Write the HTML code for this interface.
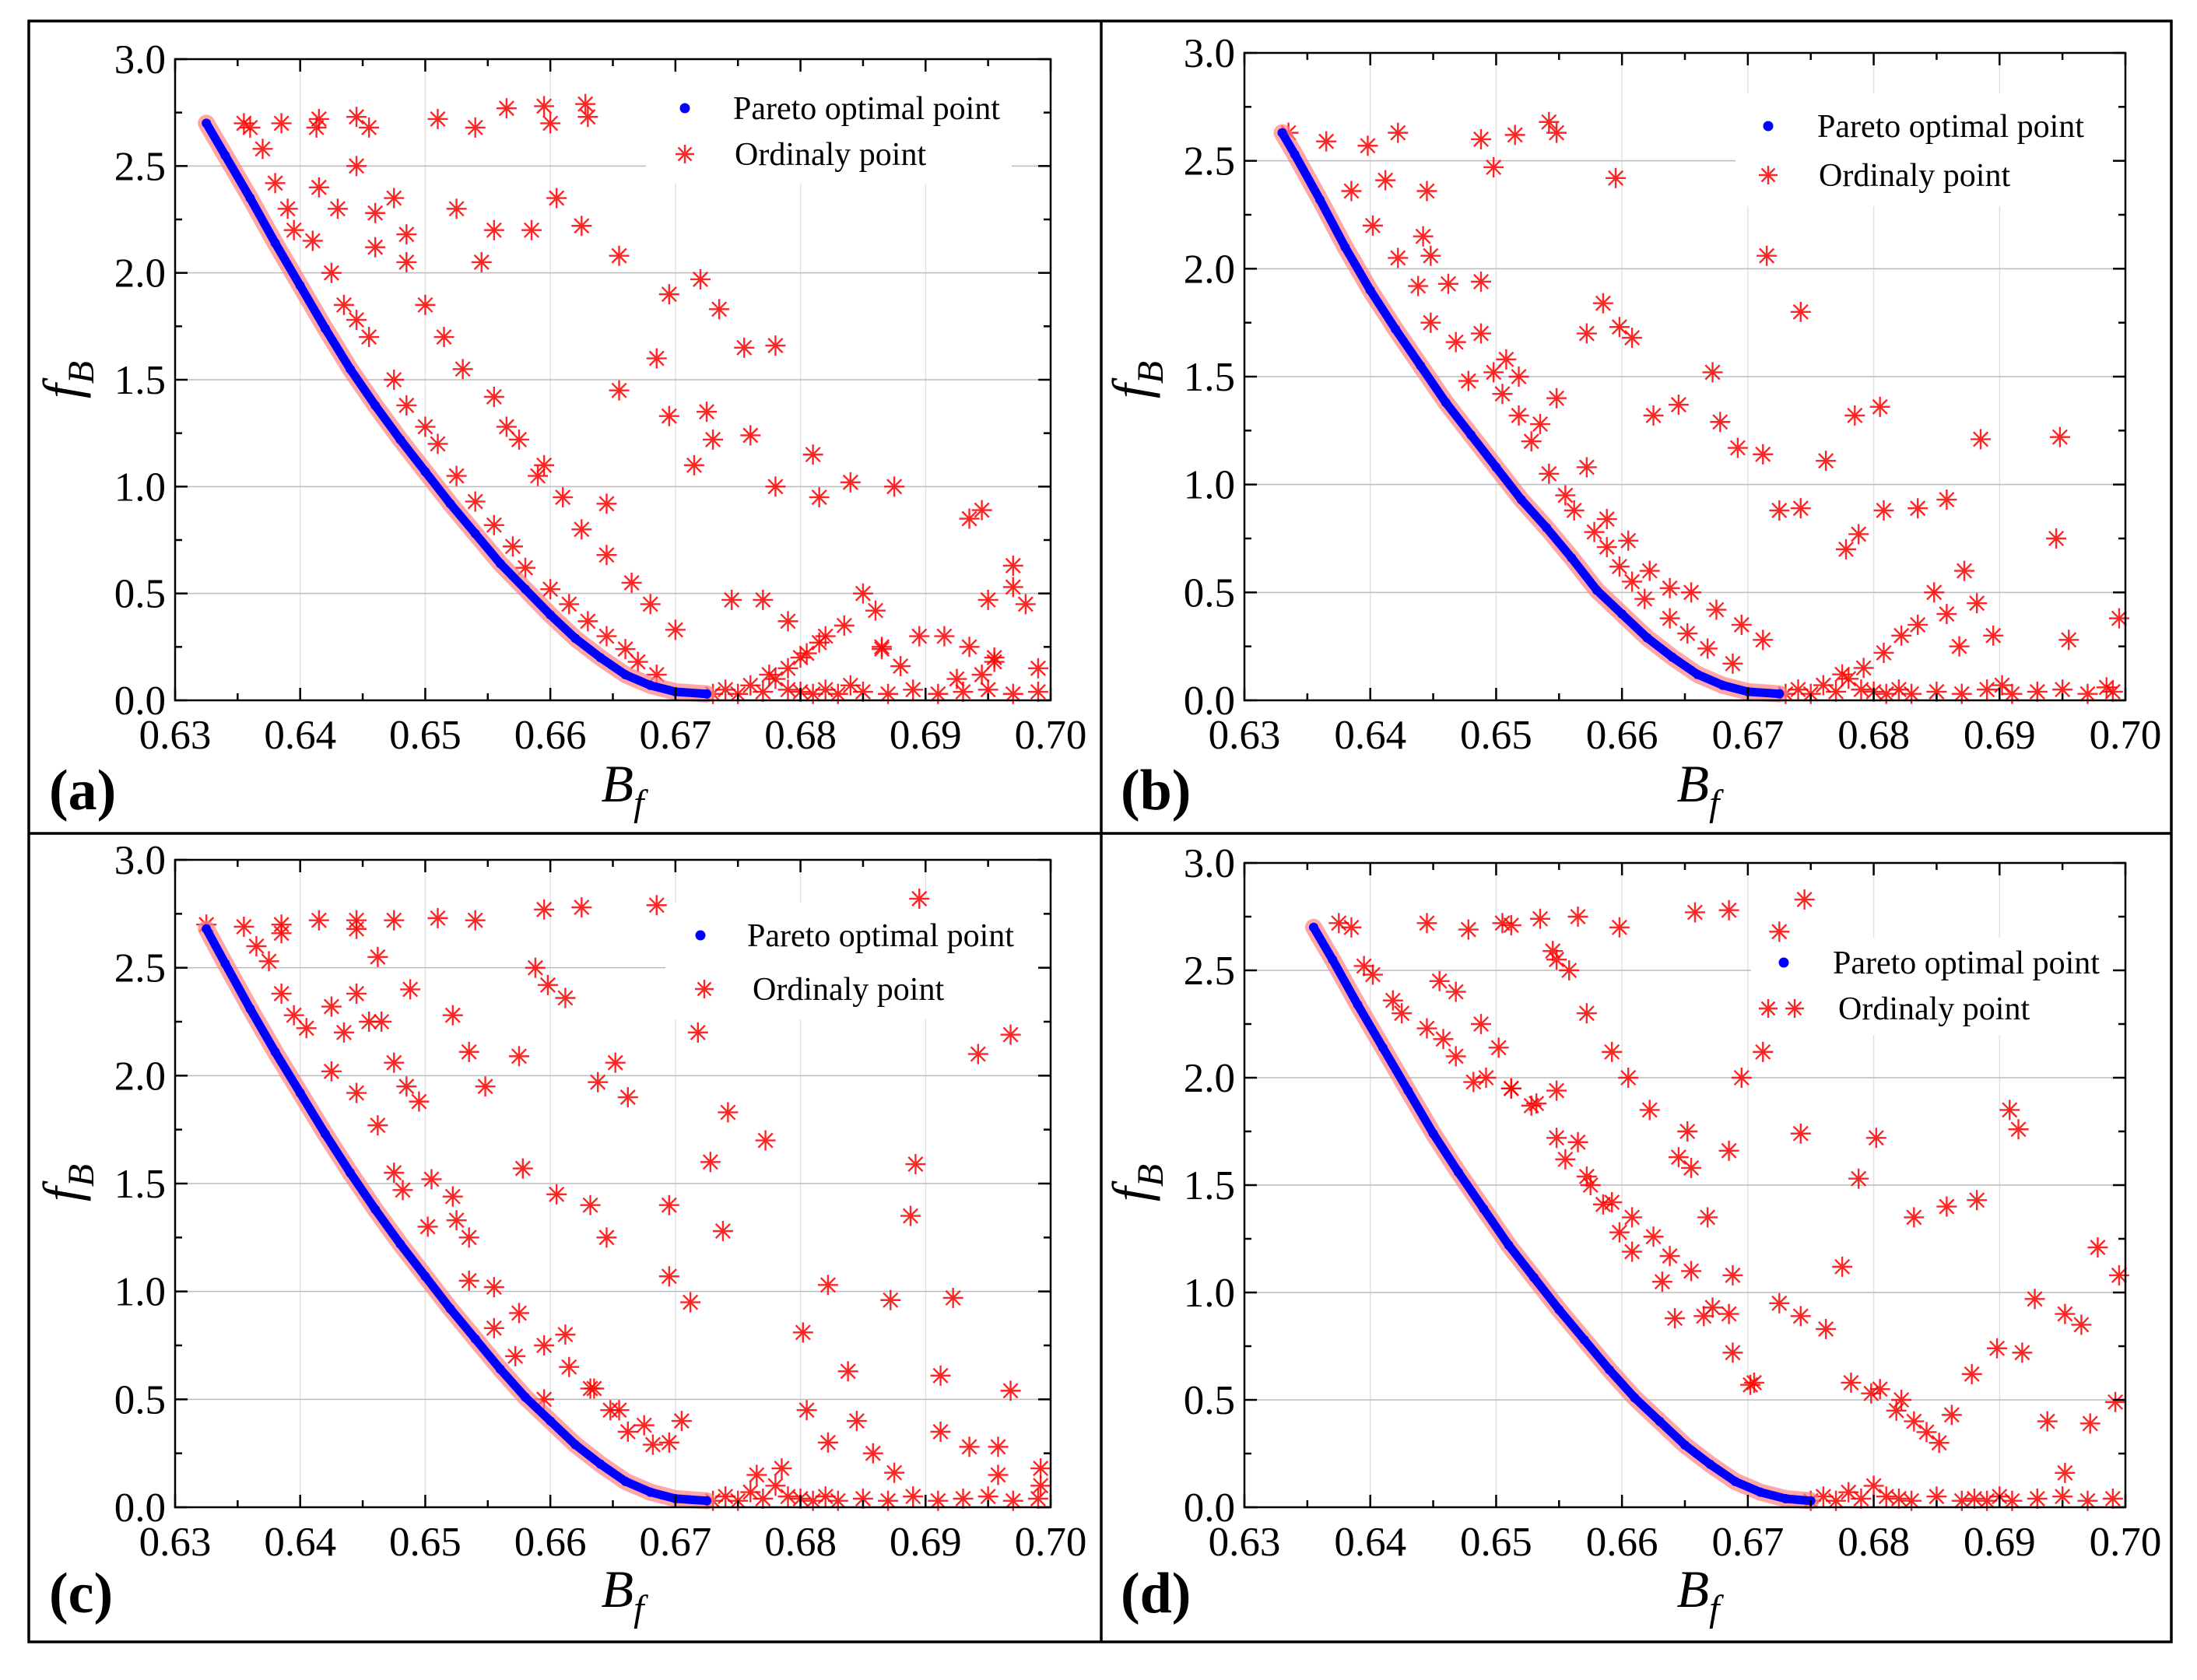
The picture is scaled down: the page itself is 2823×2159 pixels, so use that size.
<!DOCTYPE html>
<html><head><meta charset="utf-8"><style>
html,body{margin:0;padding:0;background:#fff;}
svg, svg text{font-family:"Liberation Serif","Times New Roman",serif;}
</style></head><body>
<svg id="fig" width="2823" height="2154" viewBox="0 0 2823 2154" font-family="Liberation Serif, serif">
<rect x="0" y="0" width="2823" height="2154" fill="#fff"/>
<g stroke="#000" stroke-width="3.5" fill="none">
<rect x="37" y="27" width="2753" height="2083"/>
<line x1="1415" y1="27" x2="1415" y2="2110"/>
<line x1="37" y1="1071" x2="2790" y2="1071"/>
</g>
</svg>
<script>
// ---- data ----
const xTicks = [0.63,0.64,0.65,0.66,0.67,0.68,0.69,0.70];
const xTickLabels = ["0.63","0.64","0.65","0.66","0.67","0.68","0.69","0.70"];
const yTicks = [0,0.5,1,1.5,2,2.5,3];
const yTickLabels = ["0.0","0.5","1.0","1.5","2.0","2.5","3.0"];

const paretoA_x = [0.6325,0.634,0.636,0.638,0.640,0.642,0.644,0.646,0.648,0.650,0.652,0.654,0.656,0.658,0.660,0.662,0.664,0.666,0.668,0.670,0.6725];
const paretoA_y = [2.70,2.55,2.35,2.14,1.94,1.74,1.55,1.38,1.22,1.07,0.92,0.78,0.64,0.52,0.40,0.29,0.20,0.12,0.07,0.04,0.03];
const paretoB_x = [0.633,0.634,0.636,0.638,0.640,0.642,0.644,0.646,0.648,0.650,0.652,0.654,0.656,0.658,0.660,0.662,0.664,0.666,0.668,0.670,0.6725];
const paretoB_y = [2.63,2.53,2.32,2.10,1.90,1.72,1.55,1.38,1.23,1.08,0.93,0.80,0.66,0.51,0.40,0.29,0.20,0.12,0.07,0.04,0.03];
const paretoC_x = [0.6325,0.634,0.636,0.638,0.640,0.642,0.644,0.646,0.648,0.650,0.652,0.654,0.656,0.658,0.660,0.662,0.664,0.666,0.668,0.670,0.6725];
const paretoC_y = [2.68,2.52,2.31,2.11,1.92,1.73,1.55,1.38,1.22,1.07,0.92,0.78,0.64,0.51,0.40,0.29,0.20,0.12,0.07,0.04,0.03];
const paretoD_x = [0.6355,0.637,0.639,0.641,0.643,0.645,0.647,0.649,0.651,0.653,0.655,0.657,0.659,0.661,0.663,0.665,0.667,0.669,0.671,0.673,0.675];
const paretoD_y = [2.70,2.55,2.34,2.14,1.94,1.74,1.56,1.39,1.22,1.07,0.92,0.78,0.64,0.51,0.40,0.29,0.20,0.12,0.07,0.04,0.03];

const ordA_x = [0.6355,0.636,0.6385,0.6415,0.6413,0.6445,0.6455,0.651,0.654,0.6565,0.6595,0.660,0.6628,0.663,
0.637,0.638,0.639,0.6395,0.641,0.6425,0.6435,0.6445,0.6455,0.6475,0.6485,0.650,0.651,0.6525,0.654,0.6555,0.657,0.658,0.660,0.6615,0.663,0.6645,0.666,0.667,0.6685,
0.6415,0.643,0.6445,0.646,0.6485,0.650,0.6515,0.653,0.6555,0.6575,0.659,0.661,0.6625,0.6645,0.6665,0.668,0.670,
0.646,0.6475,0.6485,0.6525,0.6545,0.6555,0.6585,0.6605,0.6625,0.6655,0.6685,0.6695,0.672,0.6735,0.6755,0.678,
0.6565,0.6595,0.6645,0.6655,0.6695,0.6715,0.6725,0.673,0.676,0.678,0.681,0.6815,0.684,0.6875,0.6935,0.6945,0.697,0.695,0.6915,0.686,0.6865,0.6745,0.677,0.679,0.680,
0.673,0.674,0.675,0.676,0.677,0.678,0.679,0.680,0.681,0.682,0.683,0.685,0.687,0.689,0.691,0.693,0.695,0.697,0.699,
0.6775,0.679,0.6805,0.682,0.6835,0.685,0.6865,0.688,0.6955,0.697,0.698,0.699,0.6945,0.6935,0.6925,0.6955,0.6895,0.684,0.6815];
const ordA_y = [2.70,2.68,2.70,2.72,2.68,2.73,2.68,2.72,2.68,2.77,2.78,2.70,2.79,2.73,
2.58,2.42,2.30,2.20,2.15,2.00,1.85,1.78,1.70,1.50,1.38,1.28,1.20,1.05,0.93,0.82,0.72,0.62,0.52,0.45,0.37,0.30,0.24,0.18,0.12,
2.40,2.30,2.50,2.28,2.05,1.85,1.70,1.55,1.42,1.22,1.05,0.95,0.80,0.68,0.55,0.45,0.33,
2.12,2.35,2.18,2.30,2.05,2.20,2.20,2.35,2.22,2.08,1.60,1.90,1.97,1.83,1.65,1.66,
1.28,1.10,0.92,1.45,1.33,1.10,1.35,1.22,1.24,1.00,1.15,0.95,1.02,1.00,0.85,0.89,0.63,0.47,0.30,0.42,0.24,0.47,0.47,0.37,0.20,
0.03,0.05,0.03,0.07,0.04,0.10,0.05,0.04,0.03,0.05,0.03,0.04,0.03,0.05,0.03,0.04,0.05,0.03,0.04,
0.12,0.15,0.22,0.30,0.35,0.50,0.25,0.16,0.18,0.53,0.45,0.15,0.12,0.25,0.10,0.20,0.30,0.07,0.27];

const ordB_x = [0.6335,0.6365,0.6398,0.6412,0.6422,0.6445,0.6488,0.6498,0.6515,0.6542,0.6548,0.6595,
0.6385,0.6402,0.6422,0.6438,0.6448,0.6462,0.6468,0.6488,0.6498,0.6505,0.6518,0.6528,0.6542,0.6555,0.6562,0.6578,0.6588,0.6598,0.6608,0.6618,0.6638,0.6652,0.6668,0.6688,
0.6442,0.6448,0.6478,0.6488,0.6508,0.6518,0.6535,0.6548,0.6572,0.6588,0.6605,0.6622,0.6638,0.6655,0.6675,0.6695,0.6712,
0.6572,0.6585,0.6598,0.6608,0.6625,0.6645,0.6672,0.6678,0.6692,0.6712,0.6715,0.6742,0.6762,0.6785,0.6805,0.6725,0.6742,0.6778,0.6788,0.6808,0.6835,0.6858,0.6872,0.6885,0.6945,0.6948,
0.673,0.674,0.675,0.676,0.677,0.678,0.679,0.680,0.681,0.682,0.683,0.685,0.687,0.689,0.691,0.693,0.695,0.697,0.699,
0.6775,0.6792,0.6808,0.6822,0.6835,0.6848,0.6858,0.6868,0.6882,0.6895,0.6955,0.6985,0.6995,0.6902];
const ordB_y = [2.63,2.59,2.57,2.41,2.63,2.36,2.60,2.47,2.62,2.68,2.63,2.42,
2.36,2.20,2.05,1.92,2.06,1.93,1.66,1.70,1.52,1.42,1.32,1.20,1.05,0.95,0.88,0.78,0.71,0.62,0.55,0.47,0.38,0.31,0.24,0.17,
2.15,1.75,1.48,1.94,1.58,1.50,1.28,1.40,1.08,0.84,0.74,0.60,0.52,0.50,0.42,0.35,0.28,
1.70,1.84,1.73,1.68,1.32,1.37,1.52,1.29,1.17,1.14,2.06,1.80,1.11,1.32,1.36,0.88,0.89,0.70,0.77,0.88,0.89,0.93,0.60,1.21,0.75,1.22,
0.03,0.05,0.03,0.07,0.04,0.10,0.05,0.04,0.03,0.05,0.03,0.04,0.03,0.05,0.03,0.04,0.05,0.03,0.04,
0.12,0.15,0.22,0.30,0.35,0.50,0.40,0.25,0.45,0.30,0.28,0.06,0.38,0.07];

const ordC_x = [0.6325,0.6355,0.6385,0.6385,0.6415,0.6445,0.6445,0.6475,0.651,0.654,0.6595,0.6625,0.6685,0.6895,
0.6365,0.6375,0.6385,0.6395,0.6405,0.6425,0.6435,0.6445,0.6455,0.6465,0.6475,0.6485,0.6495,0.6505,0.6525,0.6535,0.6555,0.6575,0.6595,0.6615,0.6635,0.6655,0.6675,0.6695,
0.6425,0.6445,0.6462,0.6475,0.6482,0.6502,0.6522,0.6535,0.6555,0.6572,0.6595,0.6612,0.6632,0.6648,0.6662,0.6682,0.6705,
0.6462,0.6488,0.6522,0.6535,0.6548,0.6575,0.6588,0.6598,0.6612,0.6638,0.6652,0.6662,0.6695,0.6718,0.6728,0.6742,0.6772,0.6892,0.6968,0.6942,
0.6578,0.6605,0.6632,0.6645,0.6695,0.6712,0.6738,0.6802,0.6822,0.6838,0.6872,0.6888,0.6912,0.6922,0.6958,0.6968,
0.673,0.674,0.675,0.676,0.677,0.678,0.679,0.680,0.681,0.682,0.683,0.685,0.687,0.689,0.691,0.693,0.695,0.697,0.699,
0.6765,0.6785,0.6805,0.6822,0.6845,0.6858,0.6875,0.6912,0.6935,0.6958,0.6992,0.6992];
const ordC_y = [2.70,2.69,2.70,2.66,2.72,2.72,2.68,2.72,2.73,2.72,2.77,2.78,2.79,2.82,
2.60,2.53,2.38,2.28,2.22,2.32,2.20,2.38,2.25,2.25,2.06,1.95,1.88,1.52,1.33,1.25,1.02,0.90,0.75,0.65,0.55,0.45,0.38,0.30,
2.02,1.92,1.77,1.55,1.47,1.30,1.44,1.05,0.83,0.70,0.50,0.80,0.55,0.45,0.35,0.29,0.40,
2.55,2.40,2.28,2.11,1.95,2.09,2.50,2.42,2.36,1.97,2.06,1.90,1.07,2.20,1.60,1.83,1.70,1.59,2.19,2.10,
1.57,1.45,1.40,1.25,1.40,0.95,1.28,0.81,1.03,0.63,0.96,1.35,0.61,0.97,0.28,0.54,
0.03,0.05,0.03,0.07,0.04,0.10,0.05,0.04,0.03,0.05,0.03,0.04,0.03,0.05,0.03,0.04,0.05,0.03,0.04,
0.15,0.18,0.45,0.30,0.40,0.25,0.16,0.35,0.28,0.15,0.10,0.18];

const ordD_x = [0.6375,0.6395,0.6445,0.6478,0.6505,0.6512,0.6535,0.6545,0.6565,0.6598,0.6658,0.6685,0.6725,0.6745,
0.6385,0.6402,0.6418,0.6425,0.6445,0.6458,0.6468,0.6482,0.6492,0.6512,0.6528,0.6548,0.6565,0.6575,0.6592,0.6608,0.6625,0.6638,0.6655,0.6672,0.6688,0.6705,
0.6455,0.6468,0.6488,0.6502,0.6512,0.6532,0.6548,0.6555,0.6572,0.6585,0.6598,0.6608,0.6632,0.6642,0.6665,0.6685,0.6702,
0.6548,0.6558,0.6572,0.6592,0.6605,0.6622,0.6645,0.6655,0.6668,0.6688,0.6695,0.6712,0.6725,0.6742,0.6762,0.6782,0.6798,0.6818,0.6832,0.6852,
0.6652,0.6685,0.6742,0.6775,0.6788,0.6802,0.6832,0.6858,0.6882,0.6908,0.6915,0.6928,0.6952,0.6965,0.6978,0.6995,
0.675,0.676,0.677,0.678,0.679,0.680,0.681,0.682,0.683,0.685,0.687,0.688,0.689,0.690,0.691,0.693,0.695,0.697,0.699,
0.6805,0.6822,0.6842,0.6862,0.6878,0.6898,0.6918,0.6938,0.6952,0.6972,0.6992];
const ordD_y = [2.72,2.52,2.72,2.69,2.72,2.71,2.74,2.59,2.75,2.70,2.77,2.78,2.68,2.83,
2.70,2.48,2.36,2.30,2.23,2.18,2.10,1.98,2.00,1.95,1.87,1.94,1.70,1.50,1.42,1.35,1.26,1.17,1.10,0.93,0.72,0.58,
2.45,2.40,2.25,2.14,1.95,1.88,1.72,1.62,1.54,1.41,1.28,1.19,1.05,0.88,0.89,0.90,0.57,
2.55,2.50,2.30,2.12,2.00,1.85,1.63,1.58,1.35,1.08,2.00,2.12,0.95,0.89,0.83,0.58,0.53,0.45,0.40,0.30,
1.75,1.66,1.74,1.12,1.53,1.72,1.35,1.40,1.43,1.85,1.76,0.97,0.90,0.85,1.21,1.08,
0.03,0.05,0.03,0.07,0.04,0.10,0.05,0.04,0.03,0.05,0.03,0.04,0.03,0.05,0.03,0.04,0.05,0.03,0.04,
0.55,0.50,0.35,0.43,0.62,0.74,0.72,0.40,0.16,0.39,0.49];

// ---- layout ----
const panels = [
 {id:"a", L:225, R:1350, T:76,  B:900,  px:paretoA_x, py:paretoA_y, ox:ordA_x, oy:ordA_y, leg:{dx:880,dy:139,tx:942,sx:880,sy:198,tx2:944,two:false,box:[830,96,470,140]}, lblX:63, lblY:1040, xt:800, xtY:1030, yt:102, ytY:488},
 {id:"b", L:1599, R:2731, T:68, B:900, px:paretoB_x, py:paretoB_y, ox:ordB_x, oy:ordB_y, leg:{dx:2272,dy:162,tx:2335,sx:2272,sy:225,tx2:2337,two:false,box:[2230,120,490,145]}, lblX:1440, lblY:1040, xt:2182, xtY:1030, yt:1476, ytY:488},
 {id:"c", L:225, R:1350, T:1105, B:1937, px:paretoC_x, py:paretoC_y, ox:ordC_x, oy:ordC_y, leg:{dx:900,dy:1202,tx:960,sx:905,sy:1271,tx2:967,two:false,box:[855,1160,480,150]}, lblX:63, lblY:2072, xt:800, xtY:2065, yt:102, ytY:1520},
 {id:"d", L:1599, R:2731, T:1109, B:1937, px:paretoD_x, py:paretoD_y, ox:ordD_x, oy:ordD_y, leg:{dx:2292,dy:1237,tx:2355,sx:2272,sy:1296,tx2:2362,two:true,box:[2250,1205,470,125]}, lblX:1440, lblY:2072, xt:2182, xtY:2065, yt:1476, ytY:1520}
];
const NS = "http://www.w3.org/2000/svg";
const FONT = '"Liberation Serif", "Times New Roman", serif';
const svg = document.getElementById("fig");
function mk(tag, attrs, parent){const e=document.createElementNS(NS,tag);for(const k in attrs)e.setAttribute(k,attrs[k]);if(tag==="text"||tag==="g")e.style.fontFamily=FONT;parent.appendChild(e);return e;}
function star(g, cx, cy, r){
  const s = mk("g",{stroke:"#ff0000","stroke-width":"2.4",opacity:"0.85"},g);
  
  
  for(let i=0;i<4;i++){const a=i*Math.PI/4; mk("line",{x1:cx-r*Math.cos(a),y1:cy-r*Math.sin(a),x2:cx+r*Math.cos(a),y2:cy+r*Math.sin(a)},s);}
}
panels.forEach(p=>{
  const sx = v => p.L + (v-0.63)/(0.70-0.63)*(p.R-p.L);
  const sy = v => p.B - v/3*(p.B-p.T);
  const g = mk("g",{},svg);
  
  
  const grid = mk("g",{stroke:"#cfcfcf","stroke-width":"1.5"},g);
  
  
  xTicks.forEach(t=>{mk("line",{x1:sx(t),y1:p.T,x2:sx(t),y2:p.B,stroke:"#e2e2e2"},grid);});
  yTicks.forEach(t=>{mk("line",{x1:p.L,y1:sy(t),x2:p.R,y2:sy(t),stroke:"#bbbbbb"},grid);});
  const b=p.leg.box;
  mk("rect",{x:b[0],y:b[1],width:b[2],height:b[3],fill:"#fff"},g);
  const og = mk("g",{},g);
  
  
  p.ox.forEach((x,i)=>star(og, sx(x), sy(p.oy[i]), 13));
  const pts = p.px.map((x,i)=>sx(x)+","+sy(p.py[i])).join(" ");
  mk("polyline",{points:pts,fill:"none",stroke:"#ff8080","stroke-width":"22","stroke-linejoin":"round","stroke-linecap":"round",opacity:"0.7"},g);
  const pl = mk("polyline",{points:pts,fill:"none",stroke:"#0000ff","stroke-width":"11","stroke-linejoin":"round","stroke-linecap":"round"},g);
  
  
  p.px.forEach((x,i)=>{const c=mk("circle",{cx:sx(x),cy:sy(p.py[i]),r:6,fill:"#0000ff"},g);
    
    });
  const fr = mk("rect",{x:p.L,y:p.T,width:p.R-p.L,height:p.B-p.T,fill:"none",stroke:"#000","stroke-width":"2.5"},g);
  
  
  const tk = mk("g",{stroke:"#000","stroke-width":"2.5"},g);
  
  
  for(let v=0.63; v<=0.7001; v+=0.005){const maj=Math.abs(v*100-Math.round(v*100))<0.01; const l=maj?16:9; const X=sx(v);
    mk("line",{x1:X,y1:p.B,x2:X,y2:p.B-l},tk); mk("line",{x1:X,y1:p.T,x2:X,y2:p.T+l},tk);}
  for(let v=0; v<=3.001; v+=0.25){const maj=Math.abs(v*2-Math.round(v*2))<0.01; const l=maj?16:9; const Y=sy(v);
    mk("line",{x1:p.L,y1:Y,x2:p.L+l,y2:Y},tk); mk("line",{x1:p.R,y1:Y,x2:p.R-l,y2:Y},tk);}
  const xl = mk("g",{"font-size":"53","text-anchor":"middle",fill:"#000"},g);
  
  
  xTicks.forEach((t,i)=>{const e=mk("text",{x:sx(t),y:p.B+62},xl); e.textContent=xTickLabels[i];});
  const yl = mk("g",{"font-size":"53","text-anchor":"end",fill:"#000"},g);
  
  
  yTicks.forEach((t,i)=>{const e=mk("text",{x:p.L-12,y:sy(t)+18},yl); e.textContent=yTickLabels[i];});
  const xt = mk("text",{x:p.xt,y:p.xtY,"font-size":"68","font-style":"italic","text-anchor":"middle"},g);
  
  
  xt.innerHTML = 'B<tspan font-size="48" dy="18">f</tspan>';
  const yt = mk("text",{x:0,y:0,"font-size":"68","font-style":"italic","text-anchor":"middle",transform:`translate(${p.yt},${p.ytY}) rotate(-90)`},g);
  
  
  yt.innerHTML = 'f<tspan font-size="48" dy="18">B</tspan>';
  const pl2 = mk("text",{x:p.lblX,y:p.lblY,"font-size":"74","font-weight":"bold"},g);
  
  
  pl2.textContent = "("+p.id+")";
  const lg = mk("g",{},g);
  
  
  const d = mk("circle",{cx:p.leg.dx,cy:p.leg.dy,r:6.5,fill:"#0000ff"},lg);
  
  
  const t1 = mk("text",{x:p.leg.tx,y:p.leg.dy+14,"font-size":"42"},lg);
  
  
  t1.textContent = "Pareto optimal point";
  star(lg, p.leg.sx, p.leg.sy, 12);
  if(p.leg.two) star(lg, p.leg.sx+34, p.leg.sy, 12);
  const t2 = mk("text",{x:p.leg.tx2,y:p.leg.sy+14,"font-size":"42"},lg);
  
  
  t2.textContent = "Ordinaly point";
});
</script>
</body></html>
